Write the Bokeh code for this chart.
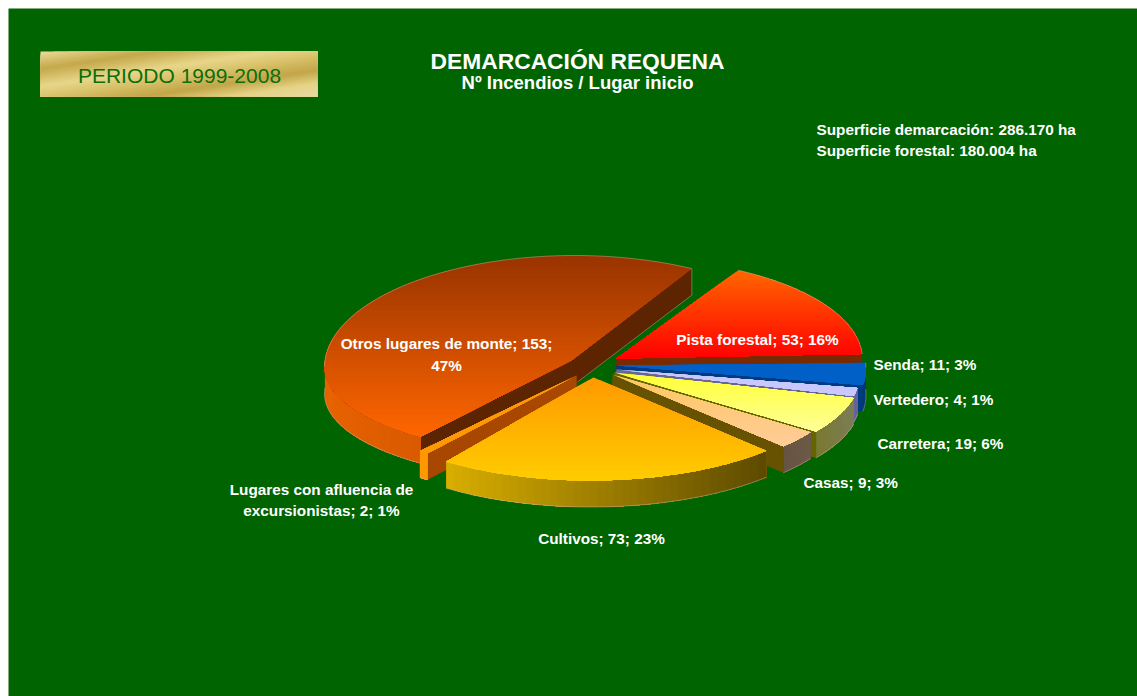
import math
import numpy as np
from bokeh.plotting import figure
from bokeh.models import Range1d
from bokeh.core.properties import value
from bokeh.embed import file_html
from bokeh.resources import INLINE

# ---- data ----
categories = ["Pista forestal", "Senda", "Vertedero", "Carretera", "Casas",
              "Cultivos", "Lugares con afluencia de excursionistas", "Otros lugares de monte"]
counts = [53, 11, 4, 19, 9, 73, 2, 153]
percents = [16, 3, 1, 6, 3, 23, 1, 47]
title_text = "DEMARCACIÓN REQUENA"
subtitle_text = "Nº Incendios / Lugar inicio"
period_text = "PERIODO 1999-2008"
area_lines = ["Superficie demarcación: 286.170 ha", "Superficie forestal: 180.004 ha"]

# ---- style / layout ----
GREEN = "#006400"
FONT = "Liberation Sans"
START = 28.0
DEPTH = 26.5
# ellipse cx, cy, rx, ry behind, ry in front, apex x, apex y (exploded pie in perspective)
geom = [(628, 359, 234, 101, 101, 616, 358), (616.5, 368, 249, 104, 104, 616, 365),
        (617, 371, 243, 104, 104, 616, 369), (610, 374, 250, 100, 100, 614, 372),
        (610, 372, 243, 105, 105, 612, 374), (590, 380, 247, 100, 100, 593, 377),
        (564, 375, 235, 96, 96, 576, 375), (574, 367, 250, 112, 88, 571, 360)]
top_cols = [("#ff6600", "#ff0000"), ("#0060c8", "#0060c8"), ("#c8c8ff", "#c8c8ff"), ("#ffff33", "#ffff99"),
            ("#ffc860", "#ffcc99"), ("#ff9900", "#ffcc00"), ("#ff9900", "#ff9900"), ("#993300", "#ff6600")]
side_cols = [("#7a2a00", "#7a2a00"), ("#003a80", "#003a80"), ("#666699", "#666699"), ("#7a7a30", "#7c7c58"),
             ("#665544", "#6e5a46"), ("#d9ae00", "#5c4a00"), ("#ff9900", "#ff9900"), ("#e86200", "#d85a00")]
cut_cols = ["#7a2a00", "#003a80", "#666699", "#666600", "#665200", "#665200", "#a84700", "#5c2400"]
draw_order = [7, 0, 1, 2, 3, 4, 6, 5]


def hex2rgb(c):
    return np.array([int(c[i:i + 2], 16) for i in (1, 3, 5)], float)


def mix(a, b, t):
    v = hex2rgb(a) * (1 - t) + hex2rgb(b) * t
    return "#%02x%02x%02x" % tuple(int(round(x)) for x in v)


def clip(poly, d, lo, hi):
    """Clip a polygon to lo <= p.d <= hi."""
    def half(pts, sign, lim):
        out = []
        for i in range(len(pts)):
            a, b = pts[i], pts[(i + 1) % len(pts)]
            fa = sign * (a[0] * d[0] + a[1] * d[1]) - lim
            fb = sign * (b[0] * d[0] + b[1] * d[1]) - lim
            if fa <= 0:
                out.append(a)
            if (fa < 0 and fb > 0) or (fa > 0 and fb < 0):
                t = fa / (fa - fb)
                out.append((a[0] + (b[0] - a[0]) * t, a[1] + (b[1] - a[1]) * t))
        return out
    res = half(poly, 1, hi)
    if res:
        res = half(res, -1, -lo)
    return res


XS, YS, CS = [], [], []


def add(poly, col):
    if len(poly) >= 3:
        XS.append([q[0] for q in poly])
        YS.append([q[1] for q in poly])
        CS.append(col)


def gradient(poly, d, stops, n=28):
    # painter's bands: each band runs to the far end, so no seams show between them
    proj = [q[0] * d[0] + q[1] * d[1] for q in poly]
    lo, hi = min(proj), max(proj)
    if hi - lo < 1:
        add(poly, stops(0.5))
        return
    step = (hi - lo) / n
    for i in range(n):
        add(clip(poly, d, lo + i * step, hi + 1), stops((i + .5) / n))


def pt(g, th):
    c = math.cos(th)
    return (g[0] + g[2] * math.sin(th), g[1] - (g[3] if c >= 0 else g[4]) * c)


total = sum(counts)
edges = [START]
for c in counts:
    edges.append(edges[-1] + c * 360.0 / total)

RX, RY = [], []
for i in draw_order:
    g = geom[i]
    a0, a1 = math.radians(edges[i]), math.radians(edges[i + 1])
    th = np.linspace(a0, a1, max(4, int(counts[i] * 1.2) + 3))
    arc = [pt(g, t) for t in th]
    c = (g[5], g[6])
    down = lambda q: (q[0], q[1] + DEPTH)
    # radial walls
    for e in (arc[0], arc[-1]):
        add([c, e, down(e), down(c)], cut_cols[i])
    # outer wall: only the part that faces the viewer
    vis = [t for t in th if math.cos(t) < 0.06]
    if len(vis) >= 2:
        front = [pt(g, t) for t in vis]
        wall = front + [down(q) for q in reversed(front)]
        l, r = side_cols[i]
        gradient(wall, (1, 0), lambda t, l=l, r=r: mix(l, r, t), 40)
        low = [down(q) for q in front]
        RX.append([q[0] for q in low])
        RY.append([q[1] for q in low])
    back = [pt(g, t) for t in th if math.cos(t) >= 0]
    if len(back) >= 2:
        RX.append([q[0] for q in back])
        RY.append([q[1] for q in back])
    if i == 7:
        tip = arc[-1]
        RX.append([tip[0], tip[0], c[0] + 6])
        RY.append([tip[1], tip[1] + DEPTH, c[1] + DEPTH - 5])
    # top face
    t0, t1 = top_cols[i]
    gradient([c] + arc, (0, 1), lambda t, a=t0, b=t1: mix(a, b, t), 40)

p = figure(width=1129, height=688, output_backend="svg", toolbar_location=None,
           x_range=Range1d(8, 1137), y_range=Range1d(696, 8), min_border=0,
           background_fill_color=GREEN, border_fill_color=GREEN, outline_line_color=None)
p.xaxis.visible = False
p.yaxis.visible = False
p.xgrid.visible = False
p.ygrid.visible = False

# gold banner, diagonal sheen
stops = [(0, "#ecdc98"), (.2, "#c4a84a"), (.4, "#e8d68a"), (.55, "#d6bf66"), (.7, "#c2a548"), (.85, "#e6d486"), (1, "#e6d8a4")]


def sheen(t):
    for (u, a), (v, b) in zip(stops, stops[1:]):
        if t <= v:
            return mix(a, b, (t - u) / (v - u))
    return stops[-1][1]


banner = [(40, 51), (317, 51), (317, 96), (40, 96)]
gradient(banner, (0.15, 0.99), sheen, 40)

p.patches(XS, YS, fill_color=CS, line_color=None)
p.multi_line(RX, RY, line_color="#c8b8a0", line_width=1, line_alpha=0.45)


def label(x, y, txt, size, align="center", color="white", style="bold", font=FONT):
    p.text([x], [y], text=[txt], text_font=value(font), text_font_size=size, text_font_style=style,
           text_color=color, text_align=align, text_baseline="middle")


def slice_label(i):
    return f"{categories[i]}; {counts[i]}; {percents[i]}%"


S = "15.3px"
label(446, 343, f"{categories[7]}; {counts[7]};", S)
label(446, 365, f"{percents[7]}%", S)
label(757, 339, slice_label(0), S)
label(873, 364, slice_label(1), S, "left")
label(873, 399, slice_label(2), S, "left")
label(877, 443, slice_label(3), S, "left")
label(803, 482, slice_label(4), S, "left")
label(601, 538, slice_label(5), S)
label(321, 489, "Lugares con afluencia de", S)
label(321, 510, f"excursionistas; {counts[6]}; {percents[6]}%", S)

label(577, 60, title_text, "22.8px")
label(577, 82, subtitle_text, "18.5px")
label(816, 129, area_lines[0], "15.3px", "left")
label(816, 150, area_lines[1], "15.3px", "left")
label(179, 75, period_text, "21px", color="#0b6e0b", style="normal")

html = file_html(p, INLINE).replace("<body>", '<body style="margin:8px 0 0 8px;overflow:hidden">')
open("out.html", "w").write(html)
